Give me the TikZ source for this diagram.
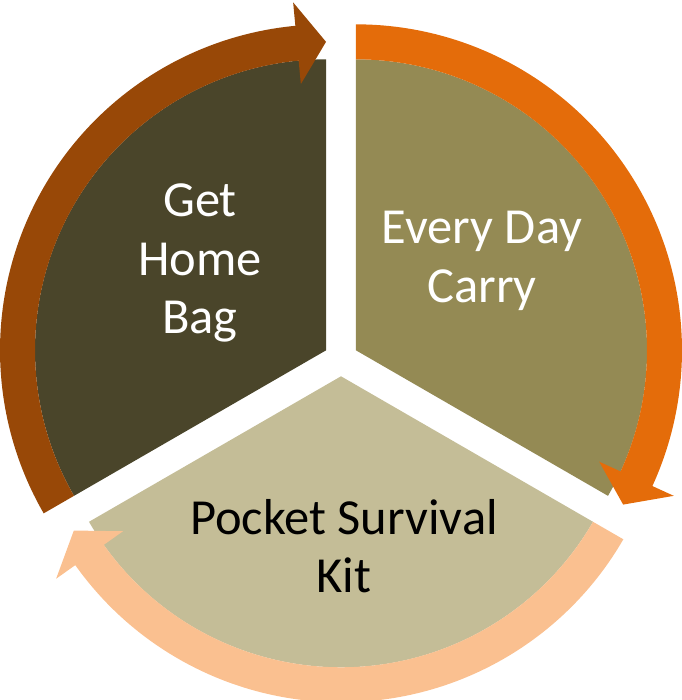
\documentclass[tikz,border=0pt]{standalone}
\usepackage{fontspec}
\setmainfont{Carlito}
\usetikzlibrary{positioning,calc}

\definecolor{homedark}{HTML}{4A452A}
\definecolor{carryolive}{HTML}{948A54}
\definecolor{kittan}{HTML}{C4BD97}
\definecolor{arrbrown}{HTML}{984807}
\definecolor{arrorange}{HTML}{E46C0A}
\definecolor{arrpeach}{HTML}{FAC090}

\newcommand\Ri{291}
\newcommand\Ro{326}
\newcommand\Rm{308.5}
\newcommand\hw{41}

% ring arrow: centre, start angle, colour
\newcommand\segarrow[3]{%
  \fill [#3] ([shift={(#2:\Ro)}]#1)
    arc [start angle=#2, end angle=#2-114.6, radius=\Ro]
    -- ([shift={({#2-114.6}:{\Rm+\hw})}]#1)
    -- ([shift={({#2-120}:\Rm)}]#1)
    -- ([shift={({#2-114.6}:{\Rm-\hw})}]#1)
    -- ([shift={({#2-114.6}:\Ri)}]#1)
    arc [start angle=#2-114.6, end angle=#2, radius=\Ri]
    -- cycle;}

\begin{document}
\begin{tikzpicture}[x=1pt,y=1pt,
  label/.style={align=center,font=\fontsize{50.5}{58.5}\selectfont}]

\useasboundingbox (0,0) rectangle (681,700);

\coordinate (o) at (341,341);
\coordinate (home) at ($(o)+(150:17.3)$);
\coordinate (carry) at ($(o)+(30:17.3)$);
\coordinate (kit) at ($(o)+(270:17.3)$);

\fill [homedark] (home) -- ([shift={(90:\Ri)}]home)
	arc [start angle=90, end angle=210, radius=\Ri] -- cycle;
\fill [carryolive] (carry) -- ([shift={(-30:\Ri)}]carry)
	arc [start angle=-30, end angle=90, radius=\Ri] -- cycle;
\fill [kittan] (kit) -- ([shift={(210:\Ri)}]kit)
	arc [start angle=210, end angle=330, radius=\Ri] -- cycle;

\segarrow{home}{210}{arrbrown}
\segarrow{carry}{90}{arrorange}
\segarrow{kit}{330}{arrpeach}

\node [label,text=white] (t1) at (200,437) {Get\\Home\\Bag};
\node [label,text=white] (t2) at (482,439) {Every Day\\Carry};
\node [label,text=black] (t3) at (344,154) {Pocket Survival\\Kit};

\end{tikzpicture}
\end{document}
